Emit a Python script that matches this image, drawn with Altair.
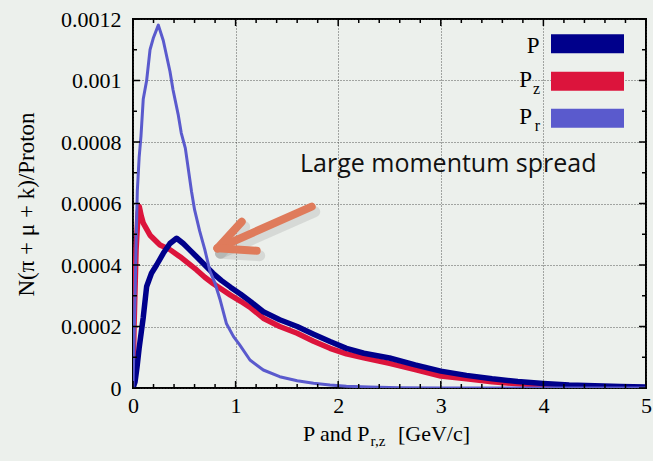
import altair as alt
import pandas as pd

# ---------------- data ----------------
p_x = [0, 0.02, 0.04, 0.06, 0.08, 0.1, 0.133, 0.18, 0.23, 0.295, 0.36, 0.425, 0.49, 0.55,
       0.62, 0.7, 0.78, 0.86, 0.95, 1.05, 1.15, 1.27, 1.43, 1.6, 1.76, 1.92, 2.08, 2.25,
       2.5, 2.75, 3.0, 3.25, 3.5, 3.75, 4.0, 4.25, 4.5, 4.75, 5.0]
p_y = [0, 0.00002, 0.00007, 0.00013, 0.00018, 0.00023, 0.00033, 0.000373, 0.0004, 0.000438,
       0.00047, 0.000487, 0.00047, 0.00045, 0.000427, 0.0004, 0.000373, 0.00035, 0.000328,
       0.000305, 0.00028, 0.000248, 0.000222, 0.0002, 0.000175, 0.000151, 0.000129, 0.000113,
       0.0000975, 0.000075, 0.000055, 0.000041, 0.00003, 0.000021, 0.000015, 0.00001,
       0.000007, 0.000005, 0.000003]

pz_x = [0, 0.01, 0.03, 0.05, 0.061, 0.08, 0.1, 0.166, 0.263, 0.36, 0.458, 0.54, 0.62, 0.7,
        0.78, 0.86, 0.95, 1.05, 1.15, 1.27, 1.43, 1.6, 1.76, 1.92, 2.08, 2.25, 2.5, 2.75,
        3.0, 3.25, 3.5, 3.75, 4.0, 4.25, 4.5, 4.75, 5.0]
pz_y = [0, 0.0002, 0.00045, 0.00057, 0.00059, 0.00056, 0.000536, 0.000497, 0.000465, 0.00045,
        0.000427, 0.000405, 0.000384, 0.00036, 0.00034, 0.000322, 0.000302, 0.000282, 0.00026,
        0.000227, 0.0002, 0.000178, 0.000152, 0.000129, 0.000111, 0.000098, 0.00008, 0.00006,
        0.000039, 0.00003, 0.00002, 0.000014, 0.00001, 0.000007, 0.000004, 0.000002, 0.000001]

pr_x = [0, 0.01, 0.02, 0.03, 0.042, 0.06, 0.078, 0.1, 0.133, 0.166, 0.2, 0.247, 0.295, 0.36,
        0.39, 0.44, 0.47, 0.51, 0.57, 0.6, 0.65, 0.7, 0.75, 0.8, 0.85, 0.91, 0.98, 1.04,
        1.14, 1.27, 1.43, 1.6, 1.76, 1.92, 2.08, 2.3, 2.6, 3.0, 4.0, 5.0]
pr_y = [0, 0.00015, 0.0003, 0.00047, 0.00064, 0.00075, 0.00082, 0.00094, 0.001, 0.0011,
        0.00114, 0.00118, 0.00113, 0.00103, 0.00097, 0.00089, 0.00083, 0.00078, 0.00064,
        0.00058, 0.00051, 0.00045, 0.00038, 0.00034, 0.000286, 0.00021, 0.000167, 0.00014,
        0.000091, 0.0000585, 0.0000368, 0.0000238, 0.0000153, 0.0000098, 0.000006,
        0.000003, 0.000001, 0, 0, 0]

x_major = [0, 1, 2, 3, 4, 5]
x_minor = [0.2, 0.4, 0.6, 0.8, 1.2, 1.4, 1.6, 1.8, 2.2, 2.4, 2.6, 2.8,
           3.2, 3.4, 3.6, 3.8, 4.2, 4.4, 4.6, 4.8]
y_major = [0, 0.0002, 0.0004, 0.0006, 0.0008, 0.001, 0.0012]
y_minor = [0.0001, 0.0003, 0.0005, 0.0007, 0.0009, 0.0011]

series_names = ["P", "Pz", "Pr"]
series_colors = ["#00008B", "#DC143C", "#5A5ACD"]

# ---------------- layout ----------------
W, H = 513, 369
BG = "#ECF0EC"
SERIF = "Liberation Serif"

xscale = alt.Scale(domain=[0, 5], nice=False, zero=False)
yscale = alt.Scale(domain=[0, 0.0012], nice=False)

axis_common = dict(
    grid=True, gridDash=[1, 2], gridColor="#333333", gridWidth=1, gridOpacity=0.8,
    ticks=False, domain=False, labelFont=SERIF, labelFontSize=22, labelColor="black",
    labelFlush=False, labelOverlap=False,
)
x_axis = alt.Axis(values=x_major, format="d", labelPadding=7, title=None, **axis_common)
y_axis = alt.Axis(values=y_major, format=".4~f", labelPadding=12,
                  title="N(π + μ + k)/Proton", titleFont=SERIF, titleFontSize=23,
                  titleFontWeight="normal", titleColor="black", titleAngle=-90,
                  titleX=-100, titleY=185, titleAlign="center", titleBaseline="alphabetic",
                  **axis_common)

XENC = lambda field: alt.X(field, scale=xscale, axis=x_axis)
YENC = lambda field: alt.Y(field, scale=yscale, axis=y_axis)


def series_layer(xs, ys, color, width):
    df = pd.DataFrame({"x": xs, "y": ys})
    return alt.Chart(df).mark_line(color=color, strokeWidth=width, clip=True,
                                   strokeJoin="round").encode(
        x=XENC("x:Q"), y=YENC("y:Q"), order="x:Q")


layers = []
layers.append(series_layer(pz_x, pz_y, series_colors[1], 5.5))
layers.append(series_layer(p_x, p_y, series_colors[0], 5.5))
layers.append(series_layer(pr_x, pr_y, series_colors[2], 3))


# inward ticks (bottom/top/left/right)
def xticks(vals, length):
    df = pd.DataFrame({"x": vals})
    bottom = alt.Chart(df).mark_rule(color="black", strokeWidth=1.5).encode(
        x=XENC("x:Q"), y=alt.value(H), y2=alt.value(H - length))
    top = alt.Chart(df).mark_rule(color="black", strokeWidth=1.5).encode(
        x=XENC("x:Q"), y=alt.value(0), y2=alt.value(length))
    return [bottom, top]


def yticks(vals, length):
    df = pd.DataFrame({"y": vals})
    left = alt.Chart(df).mark_rule(color="black", strokeWidth=1.5).encode(
        y=YENC("y:Q"), x=alt.value(0), x2=alt.value(length))
    right = alt.Chart(df).mark_rule(color="black", strokeWidth=1.5).encode(
        y=YENC("y:Q"), x=alt.value(W), x2=alt.value(W - length))
    return [left, right]


layers += xticks(x_major, 7) + xticks(x_minor, 4) + yticks(y_major, 7) + yticks(y_minor, 4)

one = pd.DataFrame({"a": [0]})

# legend (manual, to allow subscripts)
legend_rows = [("P", "", 24.8, 33.7), ("P", "z", 62.3, 68.3), ("P", "r", 99.3, 105.0)]
for (main, sub, cy, base), col in zip(legend_rows, series_colors):
    layers.append(alt.Chart(one).mark_rect(color=col).encode(
        x=alt.value(418), x2=alt.value(491), y=alt.value(cy - 9.5), y2=alt.value(cy + 9.5)))
    if sub:
        layers.append(alt.Chart(one).mark_text(
            text=main, font=SERIF, fontSize=23, align="right", baseline="alphabetic",
            color="black").encode(x=alt.value(399), y=alt.value(base)))
        layers.append(alt.Chart(one).mark_text(
            text=sub, font=SERIF, fontSize=16, align="right", baseline="alphabetic",
            color="black").encode(x=alt.value(407), y=alt.value(base + 6.5)))
    else:
        layers.append(alt.Chart(one).mark_text(
            text=main, font=SERIF, fontSize=23, align="right", baseline="alphabetic",
            color="black").encode(x=alt.value(406.5), y=alt.value(base)))

# x-axis title with subscript
layers.append(alt.Chart(one).mark_text(
    text="P and P", font=SERIF, fontSize=22, align="left", baseline="alphabetic",
    color="black").encode(x=alt.value(170), y=alt.value(421.5)))
layers.append(alt.Chart(one).mark_text(
    text="r,z", font=SERIF, fontSize=15, align="left", baseline="alphabetic",
    color="black").encode(x=alt.value(237.5), y=alt.value(427)))
layers.append(alt.Chart(one).mark_text(
    text="[GeV/c]", font=SERIF, fontSize=22, align="left", baseline="alphabetic",
    color="black").encode(x=alt.value(265), y=alt.value(421.5)))

# annotation text
layers.append(alt.Chart(one).mark_text(
    text="Large momentum spread", font="Open Sans", fontSize=25, align="left",
    baseline="alphabetic", color="#111111").encode(x=alt.value(167), y=alt.value(153)))

# arrow (shadow then arrow)
ARROW = "#DF7B5B"
arrow_segments = [
    ((178.7, 187.7), (84.5, 229.3)),
    ((108.7, 202.7), (84.5, 229.3)),
    ((123.7, 231.7), (84.5, 229.3)),
]
for (x1, y1), (x2, y2) in arrow_segments:
    layers.append(alt.Chart(one).mark_rule(
        color="#777777", opacity=0.18, strokeWidth=11, strokeCap="round").encode(
        x=alt.value(x1 + 3), y=alt.value(y1 + 5), x2=alt.value(x2 + 3), y2=alt.value(y2 + 5)))
for (x1, y1), (x2, y2) in arrow_segments:
    layers.append(alt.Chart(one).mark_rule(
        color=ARROW, strokeWidth=8, strokeCap="round").encode(
        x=alt.value(x1), y=alt.value(y1), x2=alt.value(x2), y2=alt.value(y2)))

chart = alt.layer(*layers).properties(
    width=W, height=H,
    background=BG,
    padding={"left": 133, "top": 19, "right": 7, "bottom": 73},
    autosize=alt.AutoSizeParams(type="none"),
).configure_view(stroke="black", strokeWidth=2, fill=BG)

chart.save("out.html", embed_options={"renderer": "svg", "actions": False})
